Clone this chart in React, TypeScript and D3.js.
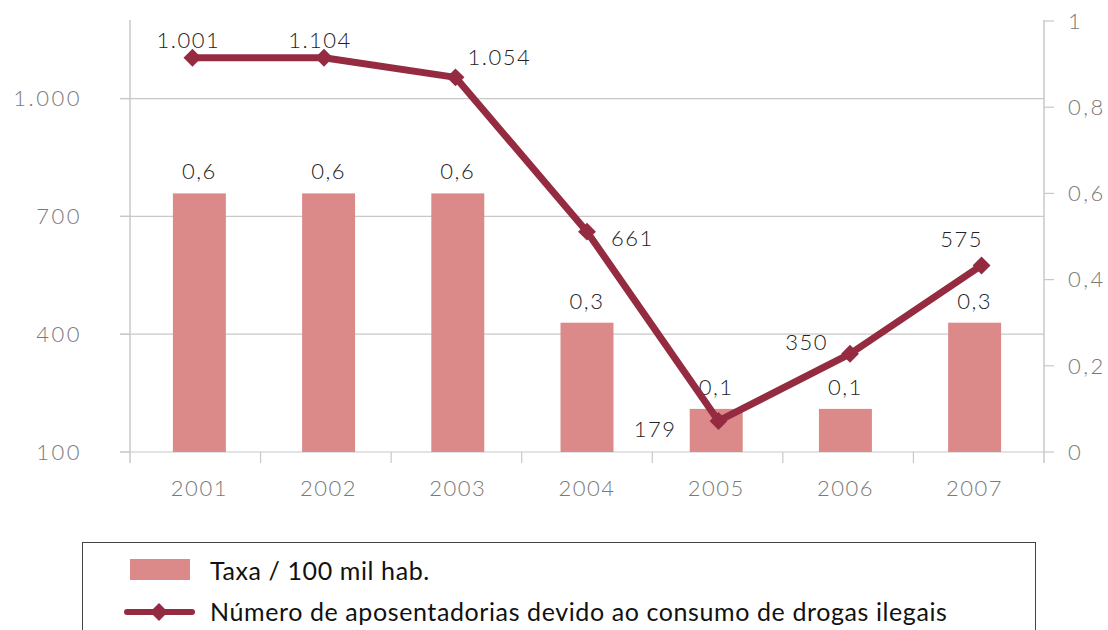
import * as d3 from "d3";
import { useEffect, useRef } from "react";

const years = ["2001", "2002", "2003", "2004", "2005", "2006", "2007"];
const taxa = [0.6, 0.6, 0.6, 0.3, 0.1, 0.1, 0.3];
const taxaLabels = ["0,6", "0,6", "0,6", "0,3", "0,1", "0,1", "0,3"];
const aposentadorias = [1104, 1104, 1054, 661, 179, 350, 575];
const aposLabels = ["1.001", "1.104", "1.054", "661", "179", "350", "575"];
const leftTicks = [100, 400, 700, 1000];
const rightTicks = [0, 0.2, 0.4, 0.6, 0.8, 1];
const legendBar = "Taxa / 100 mil hab.";
const legendLine = "Número de aposentadorias devido ao consumo de drogas ilegais";

// where each line label sits relative to its point: [dx, dy, anchor]
const labelPos: [number, number, string][] = [
  [-4, -10, "middle"],
  [-4, -10, "middle"],
  [12, -12, "start"],
  [24, 14, "start"],
  [-42, 16, "end"],
  [-22, -4, "end"],
  [-20, -18, "middle"],
];

const W = 1108;
const H = 630;
const FONT = "Lato, 'Open Sans', sans-serif";
const BAR = "#db8989";
const LINE = "#952b40";
const GRID = "#c8c8c8";
const AXIS_TEXT = "#7a7a7a";

function Chart() {
  const ref = useRef<SVGSVGElement>(null);

  useEffect(() => {
    const svg = d3.select(ref.current);
    svg.selectAll("*").remove();

    const left = 130;
    const right = 1044;
    const top = 20;
    const bottom = 452;

    const x = d3
      .scaleBand()
      .domain(years)
      .range([left, right])
      .paddingInner(0.59)
      .paddingOuter(0.332);
    const xStep = d3.scaleBand().domain(years).range([left, right]);
    const xPt = d3.scalePoint().domain(years).range([left, right]).padding(0.475);
    const yL = d3.scaleLinear().domain([100, 1200]).range([bottom, top]);
    const yR = d3.scaleLinear().domain([0, 1]).range([bottom, top + 1]);

    // gridlines
    svg
      .append("g")
      .selectAll("line")
      .data(leftTicks.slice(1))
      .join("line")
      .attr("x1", left - 10)
      .attr("x2", right)
      .attr("y1", (d) => yL(d))
      .attr("y2", (d) => yL(d))
      .attr("stroke", GRID)
      .attr("stroke-width", 1.2);

    // left axis
    const gl = svg.append("g");
    gl.append("line")
      .attr("x1", left)
      .attr("x2", left)
      .attr("y1", top)
      .attr("y2", bottom + 11)
      .attr("stroke", GRID)
      .attr("stroke-width", 1.5);
    gl.selectAll("line.tick")
      .data(leftTicks)
      .join("line")
      .attr("class", "tick")
      .attr("x1", left - 10)
      .attr("x2", left)
      .attr("y1", (d) => yL(d))
      .attr("y2", (d) => yL(d))
      .attr("stroke", GRID)
      .attr("stroke-width", 1.2);
    gl.selectAll("text")
      .data(leftTicks)
      .join("text")
      .attr("x", 82)
      .attr("y", (d) => yL(d))
      .attr("dy", "0.35em")
      .attr("text-anchor", "end")
      .attr("fill", AXIS_TEXT)
      .attr("font-size", 22)
      .attr("font-weight", 300)
      .attr("letter-spacing", 2.5)
      .text((d) => d3.format(",")(d).replace(",", "."));

    // right axis
    const gr = svg.append("g");
    gr.append("line")
      .attr("x1", right)
      .attr("x2", right)
      .attr("y1", top)
      .attr("y2", bottom + 11)
      .attr("stroke", GRID)
      .attr("stroke-width", 1.5);
    gr.selectAll("line.tick")
      .data(rightTicks)
      .join("line")
      .attr("class", "tick")
      .attr("x1", right)
      .attr("x2", right + 10)
      .attr("y1", (d) => yR(d))
      .attr("y2", (d) => yR(d))
      .attr("stroke", GRID)
      .attr("stroke-width", 1.2);
    gr.selectAll("text")
      .data(rightTicks)
      .join("text")
      .attr("x", 1068)
      .attr("y", (d) => yR(d))
      .attr("dy", "0.35em")
      .attr("fill", AXIS_TEXT)
      .attr("font-size", 22)
      .attr("font-weight", 300)
      .attr("letter-spacing", 2.5)
      .text((d) => String(d).replace(".", ","));

    // x axis
    const gx = svg.append("g");
    gx.append("line")
      .attr("x1", left - 10)
      .attr("x2", right)
      .attr("y1", bottom)
      .attr("y2", bottom)
      .attr("stroke", GRID)
      .attr("stroke-width", 1.2);
    gx.selectAll("line.tick")
      .data(years.slice(1))
      .join("line")
      .attr("class", "tick")
      .attr("x1", (d) => xStep(d)!)
      .attr("x2", (d) => xStep(d)!)
      .attr("y1", bottom)
      .attr("y2", bottom + 11)
      .attr("stroke", GRID)
      .attr("stroke-width", 1.2);
    gx.selectAll("text")
      .data(years)
      .join("text")
      .attr("x", (d) => x(d)! + x.bandwidth() / 2)
      .attr("y", 496)
      .attr("text-anchor", "middle")
      .attr("fill", AXIS_TEXT)
      .attr("font-size", 22)
      .attr("font-weight", 300)
      .attr("letter-spacing", 1.5)
      .text((d) => d);

    // bars
    svg
      .append("g")
      .selectAll("rect")
      .data(years)
      .join("rect")
      .attr("x", (d) => x(d)!)
      .attr("width", x.bandwidth())
      .attr("y", (d, i) => yR(taxa[i]))
      .attr("height", (d, i) => bottom - yR(taxa[i]))
      .attr("fill", BAR);

    svg
      .append("g")
      .selectAll("text")
      .data(years)
      .join("text")
      .attr("x", (d) => x(d)! + x.bandwidth() / 2)
      .attr("y", (d, i) => yR(taxa[i]) - 14)
      .attr("text-anchor", "middle")
      .attr("fill", "#222")
      .attr("font-size", 22)
      .attr("font-weight", 300)
      .attr("letter-spacing", 1.5)
      .text((d, i) => taxaLabels[i]);

    // line
    const line = d3
      .line<string>()
      .x((d) => xPt(d)!)
      .y((d, i) => yL(aposentadorias[i]));
    svg
      .append("path")
      .datum(years)
      .attr("d", line)
      .attr("fill", "none")
      .attr("stroke", LINE)
      .attr("stroke-width", 7)
      .attr("stroke-linejoin", "round");

    const diamond = d3.symbol(d3.symbolSquare, 160);
    svg
      .append("g")
      .selectAll("path")
      .data(years)
      .join("path")
      .attr("d", diamond)
      .attr(
        "transform",
        (d, i) => `translate(${xPt(d)},${yL(aposentadorias[i])}) rotate(45)`
      )
      .attr("fill", LINE);

    svg
      .append("g")
      .selectAll("text")
      .data(years)
      .join("text")
      .attr("x", (d, i) => xPt(d)! + labelPos[i][0])
      .attr("y", (d, i) => yL(aposentadorias[i]) + labelPos[i][1])
      .attr("text-anchor", (d, i) => labelPos[i][2])
      .attr("fill", "#222")
      .attr("font-size", 22)
      .attr("font-weight", 300)
      .attr("letter-spacing", 1.5)
      .text((d, i) => aposLabels[i]);

    // legend
    const lg = svg.append("g");
    lg.append("rect")
      .attr("x", 82.5)
      .attr("y", 542.5)
      .attr("width", 953)
      .attr("height", 120)
      .attr("fill", "none")
      .attr("stroke", "#444")
      .attr("stroke-width", 1);
    lg.append("rect")
      .attr("x", 130)
      .attr("y", 559)
      .attr("width", 60)
      .attr("height", 21)
      .attr("fill", BAR);
    lg.append("line")
      .attr("x1", 127)
      .attr("x2", 192)
      .attr("y1", 612)
      .attr("y2", 612)
      .attr("stroke", LINE)
      .attr("stroke-width", 6)
      .attr("stroke-linecap", "round");
    lg.append("path")
      .attr("d", diamond)
      .attr("transform", "translate(159,612) rotate(45)")
      .attr("fill", LINE);
    lg.append("text")
      .attr("x", 210)
      .attr("y", 580)
      .attr("font-size", 25)
      .attr("letter-spacing", 0.6)
      .attr("fill", "#111")
      .text(legendBar);
    lg.append("text")
      .attr("x", 210)
      .attr("y", 621)
      .attr("font-size", 25)
      .attr("letter-spacing", 0.6)
      .attr("fill", "#111")
      .text(legendLine);
  }, []);

  return (
    <svg
      ref={ref}
      width={W}
      height={H}
      fontFamily={FONT}
      style={{ position: "absolute", left: 0, top: 0, background: "#fff" }}
    />
  );
}

export default function App() {
  return <Chart />;
}
